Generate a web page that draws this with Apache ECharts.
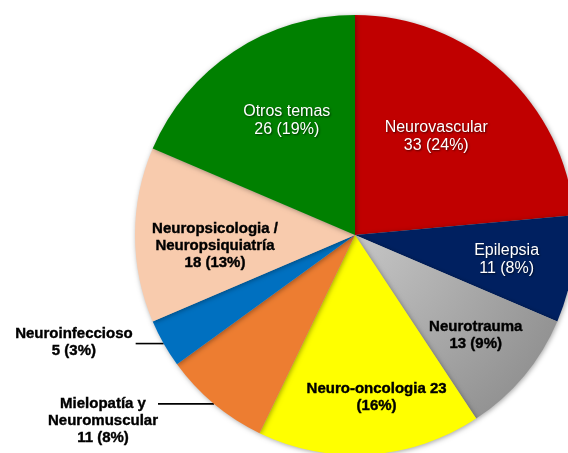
<!DOCTYPE html>
<html>
<head>
<meta charset="utf-8">
<script src="https://cdn.jsdelivr.net/npm/echarts@6/dist/echarts.min.js"></script>
<style>
  html, body { margin: 0; padding: 0; background: #fff; }
  #main { width: 568px; height: 453px; }
</style>
</head>
<body>
<div id="main"></div>
<script>
// categorias y valores
const categories = ['Neurovascular', 'Epilepsia', 'Neurotrauma', 'Neuro-oncologia', 'Mielopatía y Neuromuscular', 'Neuroinfeccioso', 'Neuropsicologia / Neuropsiquiatría', 'Otros temas'];
const values = [33, 11, 13, 23, 11, 5, 18, 26];
const percents = [24, 8, 9, 16, 8, 3, 13, 19];
const labelTexts = [
  'Neurovascular\n{v} ({p}%)',
  'Epilepsia\n{v} ({p}%)',
  'Neurotrauma\n{v} ({p}%)',
  'Neuro-oncologia {v}\n({p}%)',
  'Mielopatía y\nNeuromuscular\n{v} ({p}%)',
  'Neuroinfeccioso\n{v} ({p}%)',
  'Neuropsicologia /\nNeuropsiquiatría\n{v} ({p}%)',
  'Otros temas\n{v} ({p}%)'
];
const colors = ['#C00000', '#002060', null, '#FFFF00', '#ED7D31', '#0070C0', '#F8CBAD', '#008000'];

const cx = 355, cy = 235, R = 220;

const whiteLabel = {
  color: '#fff', fontSize: 16, fontFamily: 'Liberation Sans', lineHeight: 18,
  textShadowColor: 'rgba(0,0,0,0.6)', textShadowBlur: 2, textShadowOffsetX: 1, textShadowOffsetY: 1
};
const blackLabel = {
  color: '#000', fontSize: 15, fontWeight: 'bold', fontFamily: 'Liberation Sans', lineHeight: 17,
  textBorderColor: '#000', textBorderWidth: 0.4
};
const whiteIdx = [0, 1, 7];
const outsideIdx = [4, 5];

// desplazamientos de las etiquetas interiores
const shifts = {
  0: { dx: 5, dy: -15 },
  1: { dx: 40, dy: 7 },
  2: { dx: 34, dy: 28 },
  3: { dx: 14, dy: 50 },
  6: { dx: -27, dy: 11 },
  7: { dx: -6, dy: -20 }
};

const grayFill = new echarts.graphic.RadialGradient(cx, cy, R, [
  { offset: 0, color: '#C6C6C6' },
  { offset: 1, color: '#939393' }
], true);

const data = categories.map((name, i) => {
  const isOut = outsideIdx.includes(i);
  const style = whiteIdx.includes(i) ? whiteLabel : blackLabel;
  const text = labelTexts[i].replace('{v}', values[i]).replace('{p}', percents[i]);
  const item = {
    name: name,
    value: values[i],
    itemStyle: { color: colors[i] || grayFill }
  };
  if (isOut) {
    item.label = Object.assign({
      show: true,
      position: 'outside',
      distanceToLabelLine: i === 4 ? 0 : 3,
      padding: i === 4 ? [34, 0, 0, 0] : [0, 0, 2, 0],
      formatter: text.split('\n').map(s => '{c|' + s + '}').join('\n'),
      rich: { c: Object.assign({ align: 'center' }, style) }
    }, style);
    item.labelLine = {
      show: true,
      length: 0,
      length2: i === 4 ? 56 : 28,
      lineStyle: { color: '#000', width: 1.6 }
    };
  } else {
    item.label = Object.assign({
      show: true,
      position: 'inside',
      align: 'center',
      formatter: text
    }, style);
    item.labelLine = { show: false };
  }
  return item;
});

const myChart = echarts.init(document.getElementById('main'));
myChart.setOption({
  animation: false,
  series: [{
    type: 'pie',
    center: [cx, cy],
    radius: [0, R],
    startAngle: 90,
    clockwise: true,
    avoidLabelOverlap: false,
    data: data,
    itemStyle: {
      shadowBlur: 5,
      shadowColor: 'rgba(0,0,0,0.35)',
      shadowOffsetX: 1,
      shadowOffsetY: 1
    },
    labelLayout: function (params) {
      return shifts[params.dataIndex] || {};
    }
  }]
});
</script>
</body>
</html>
